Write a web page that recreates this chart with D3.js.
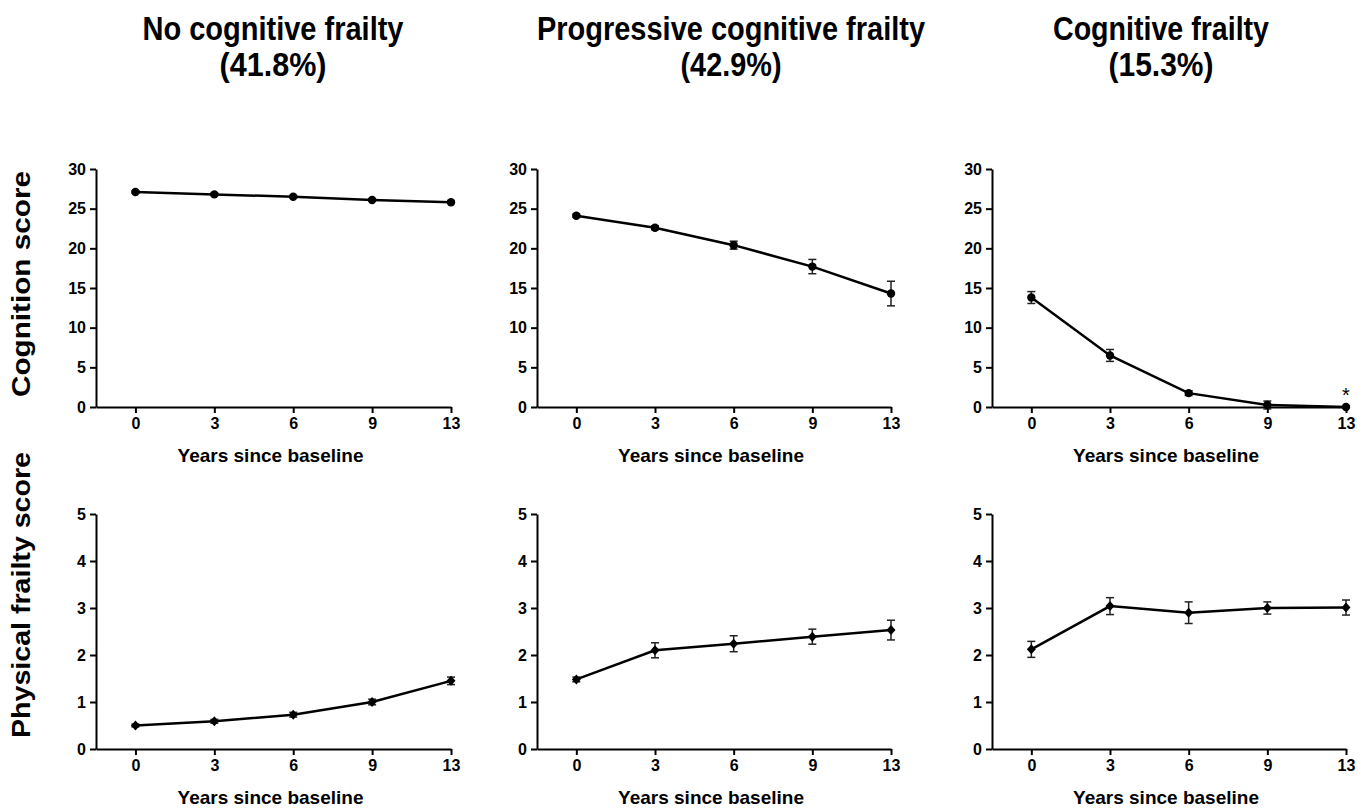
<!DOCTYPE html>
<html>
<head>
<meta charset="utf-8">
<script src="https://cdn.jsdelivr.net/npm/d3@7"></script>
<style>
  body { margin: 0; background: #fff; }
  svg text { font-family: "Liberation Sans", Arial, sans-serif; font-weight: bold; fill: #000; }
  .axis path, .axis line { stroke: #000; stroke-width: 2; }
  .axis text { font-size: 16px; }
</style>
</head>
<body>
<div id="chart"></div>
<script>
// data
var years = ["0", "3", "6", "9", "13"];
var groups = ["No cognitive frailty", "Progressive cognitive frailty", "Cognitive frailty"];
var shares = ["(41.8%)", "(42.9%)", "(15.3%)"];

var cogNo = [27.1, 26.8, 26.5, 26.1, 25.8];
var cogNoErr = [0.15, 0.15, 0.15, 0.15, 0.15];
var cogProg = [24.1, 22.6, 20.4, 17.7, 14.3];
var cogProgErr = [0.2, 0.25, 0.5, 0.9, 1.55];
var cogFrail = [13.8, 6.5, 1.75, 0.25, 0.0];
var cogFrailErr = [0.75, 0.75, 0.3, 0.5, 0.1];

var physNo = [0.5, 0.59, 0.73, 1.0, 1.45];
var physNoErr = [0.03, 0.04, 0.05, 0.06, 0.08];
var physProg = [1.48, 2.10, 2.24, 2.39, 2.53];
var physProgErr = [0.05, 0.16, 0.17, 0.16, 0.21];
var physFrail = [2.12, 3.04, 2.90, 3.0, 3.01];
var physFrailErr = [0.17, 0.18, 0.23, 0.13, 0.16];

var cogTicks = [0, 5, 10, 15, 20, 25, 30];
var physTicks = [0, 1, 2, 3, 4, 5];

var width = 1367, height = 810;

var svg = d3.select("#chart").append("svg")
    .attr("width", width)
    .attr("height", height);

// layout
var colLeft = [96, 537, 992],
    colRight = [451, 891, 1346],
    titleX = [273, 731, 1161],
    titleW = [261, 388, 216],
    shareW = [107, 101, 105];

var rows = [
    { top: 169, bottom: 407, max: 30, ticks: cogTicks, marker: "circle",
      series: [[cogNo, cogNoErr], [cogProg, cogProgErr], [cogFrail, cogFrailErr]] },
    { top: 514, bottom: 749, max: 5, ticks: physTicks, marker: "diamond",
      series: [[physNo, physNoErr], [physProg, physProgErr], [physFrail, physFrailErr]] }
];

// column titles
groups.forEach(function (g, i) {
    svg.append("text")
        .attr("x", titleX[i]).attr("y", 40)
        .attr("text-anchor", "middle")
        .attr("textLength", titleW[i])
        .attr("lengthAdjust", "spacingAndGlyphs")
        .style("font-size", "33px")
        .text(g);
    svg.append("text")
        .attr("x", titleX[i]).attr("y", 76)
        .attr("text-anchor", "middle")
        .attr("textLength", shareW[i])
        .attr("lengthAdjust", "spacingAndGlyphs")
        .style("font-size", "33px")
        .text(shares[i]);
});

// row titles
svg.append("text")
    .attr("transform", "translate(30,284) rotate(-90)")
    .attr("text-anchor", "middle")
    .attr("textLength", 226)
    .attr("lengthAdjust", "spacingAndGlyphs")
    .style("font-size", "25px")
    .text("Cognition score");

svg.append("text")
    .attr("transform", "translate(30,595) rotate(-90)")
    .attr("text-anchor", "middle")
    .attr("textLength", 286)
    .attr("lengthAdjust", "spacingAndGlyphs")
    .style("font-size", "25px")
    .text("Physical frailty score");

var line = d3.line();

rows.forEach(function (row) {
    var y = d3.scaleLinear().domain([0, row.max]).range([row.bottom, row.top]);

    row.series.forEach(function (s, c) {
        var vals = s[0], errs = s[1];
        var x = d3.scaleLinear().domain([-0.5, 4]).range([colLeft[c], colRight[c]]);
        var g = svg.append("g");

        g.append("g")
            .attr("class", "axis")
            .attr("transform", "translate(0," + row.bottom + ")")
            .call(d3.axisBottom(x).tickValues(d3.range(years.length))
                .tickFormat(function (i) { return years[i]; })
                .tickSize(6).tickPadding(5).tickSizeOuter(0));

        g.append("g")
            .attr("class", "axis")
            .attr("transform", "translate(" + colLeft[c] + ",0)")
            .call(d3.axisLeft(y).tickValues(row.ticks).tickFormat(d3.format("d"))
                .tickSize(6).tickPadding(4).tickSizeOuter(0));

        g.append("text")
            .attr("x", (colLeft[c] + colRight[c]) / 2 - 3)
            .attr("y", row.bottom + 55)
            .attr("text-anchor", "middle")
            .style("font-size", "19px")
            .text("Years since baseline");

        // error bars
        var eb = g.selectAll(".err").data(vals).enter().append("g");
        eb.append("line")
            .attr("x1", function (d, i) { return x(i); })
            .attr("x2", function (d, i) { return x(i); })
            .attr("y1", function (d, i) { return y(d - errs[i]); })
            .attr("y2", function (d, i) { return y(d + errs[i]); })
            .attr("stroke", "#222").attr("stroke-width", 1.5);
        [-1, 1].forEach(function (sgn) {
            eb.append("line")
                .attr("x1", function (d, i) { return x(i) - 4; })
                .attr("x2", function (d, i) { return x(i) + 4; })
                .attr("y1", function (d, i) { return y(d + sgn * errs[i]); })
                .attr("y2", function (d, i) { return y(d + sgn * errs[i]); })
                .attr("stroke", "#222").attr("stroke-width", 1.5);
        });

        g.append("path")
            .attr("d", line(vals.map(function (d, i) { return [x(i), y(d)]; })))
            .attr("fill", "none")
            .attr("stroke", "#000")
            .attr("stroke-width", 2.5);

        if (row.marker === "circle") {
            g.selectAll(".pt").data(vals).enter().append("circle")
                .attr("cx", function (d, i) { return x(i); })
                .attr("cy", function (d) { return y(d); })
                .attr("r", 4.2)
                .attr("fill", "#000");
        } else {
            g.selectAll(".pt").data(vals).enter().append("path")
                .attr("transform", function (d, i) { return "translate(" + x(i) + "," + y(d) + ")"; })
                .attr("d", "M0,-5L4.5,0L0,5L-4.5,0Z")
                .attr("fill", "#000");
        }

        if (row.marker === "circle" && c === 2) {
            g.append("text")
                .attr("x", x(4)).attr("y", y(vals[4]) - 5)
                .attr("text-anchor", "middle")
                .style("font-size", "20px")
                .style("font-weight", "normal")
                .text("*");
        }
    });
});
</script>
</body>
</html>
